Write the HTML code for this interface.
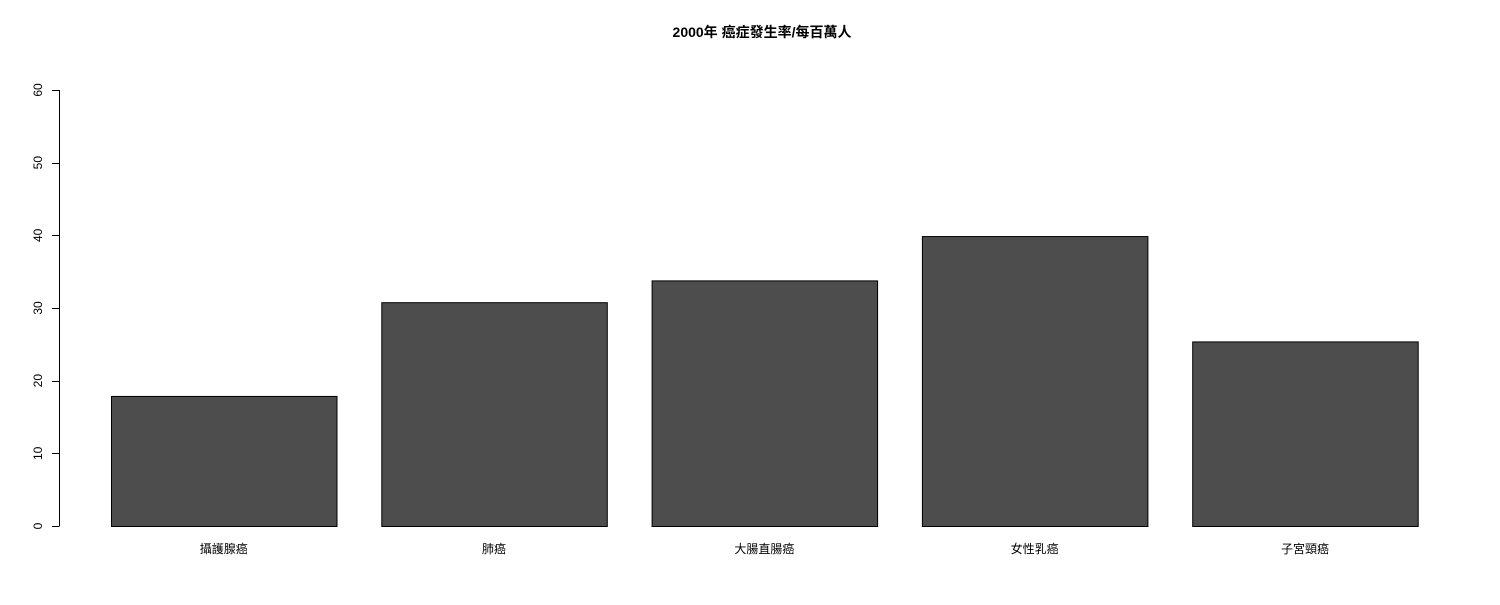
<!DOCTYPE html>
<html><head><meta charset="utf-8"><style>
html,body{margin:0;padding:0;background:#fff;}
svg text{font-family:"Liberation Sans","Noto Sans CJK TC",sans-serif;}
</style></head><body>
<svg id="chart" width="1500" height="600" xmlns="http://www.w3.org/2000/svg">
<rect width="1500" height="600" fill="#fff"/>
<text x="762" y="37" text-anchor="middle" font-size="14" font-weight="bold">2000年 癌症發生率/每百萬人</text>
<g id="yaxis"></g>
<g id="bars"></g>
</svg>
<script>
const categories = ["攝護腺癌","肺癌","大腸直腸癌","女性乳癌","子宮頸癌"];
const values = [17.9, 30.8, 33.8, 39.9, 25.4];
const yTicks = [0,10,20,30,40,50,60];
const NS="http://www.w3.org/2000/svg";
const y0=526, y1=90, yMax=60;
const y=v=>y0-(v/yMax)*(y0-y1);
const barW=225.5, step=270.3, left0=111;
const x=i=>left0+i*step;
const ya=document.getElementById('yaxis'), bg=document.getElementById('bars');
function mk(tag,attrs,parent){const e=document.createElementNS(NS,tag);for(const k in attrs)e.setAttribute(k,attrs[k]);parent.appendChild(e);return e;}
const axl=mk('line',{x1:59.5,x2:59.5,y1:y(yTicks[0]),y2:y(yTicks[yTicks.length-1]),stroke:'#000'},ya);


yTicks.forEach(t=>{
  const ln=mk('line',{x1:52,x2:59.5,y1:Math.round(y(t))+0.5,y2:Math.round(y(t))+0.5,stroke:'#000'},ya);
  
  
  const tx=mk('text',{x:0,y:0,'font-size':12,'text-anchor':'middle',transform:`translate(42,${y(t)}) rotate(-90)`},ya);
  
  
  tx.textContent=t;
});
values.forEach((v,i)=>{
  const r=mk('rect',{x:x(i)+0.5,y:y(v)+0.5,width:barW,height:y(0)-y(v),fill:'#4d4d4d',stroke:'#000'},bg);
  
  
  const tx=mk('text',{x:x(i)+barW/2,y:553,'font-size':12,'text-anchor':'middle'},bg);
  
  
  tx.textContent=categories[i];
});
</script>
</body></html>
